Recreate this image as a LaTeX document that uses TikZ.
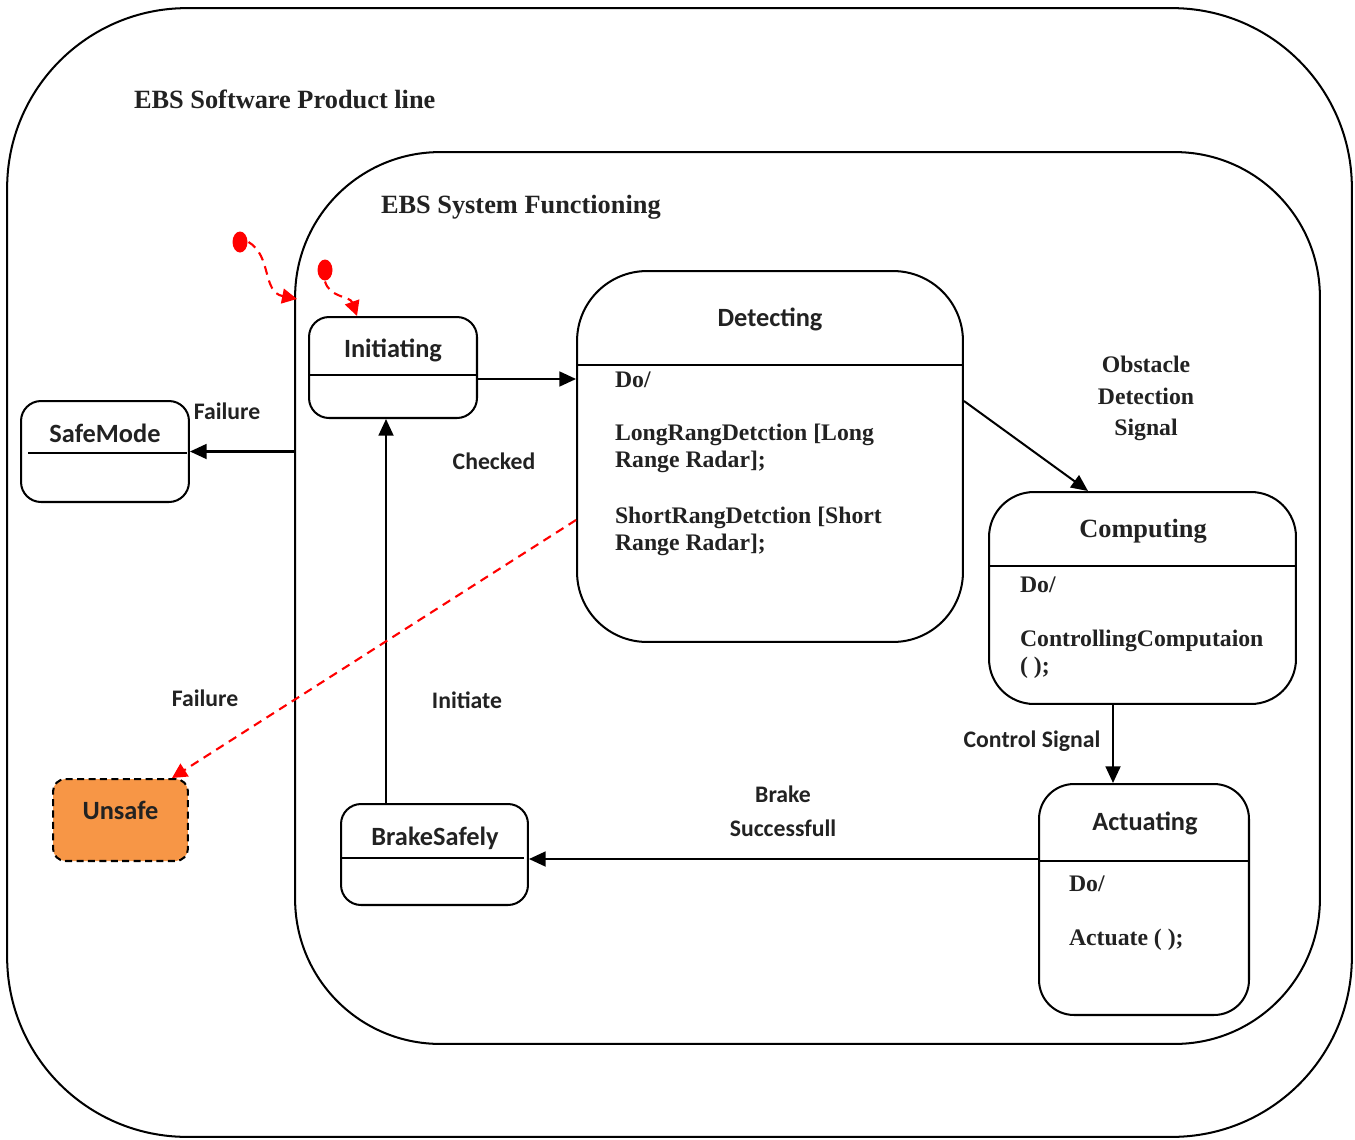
\documentclass[tikz,border=0pt]{standalone}
\usepackage{fontspec}
\setmainfont{Liberation Serif}
\newfontfamily\calfont{Carlito}
\usetikzlibrary{arrows.meta,shapes.geometric}
\definecolor{ink}{HTML}{222222}
\definecolor{alarm}{HTML}{FF0000}
\definecolor{unsafefill}{HTML}{F79646}

\begin{document}
\begin{tikzpicture}[x=0.02cm,y=-0.02cm,
  line width=1.15pt,
  box/.style={draw, rectangle, inner sep=0pt},
  tmr/.style={font=\fontsize{15}{18}\selectfont\bfseries, text=ink},
  body/.style={font=\fontsize{13.5}{15.5}\selectfont\bfseries, text=ink, align=left, anchor=west, inner sep=0pt},
  cal/.style={font=\calfont\fontsize{15}{18}\selectfont\bfseries, text=ink},
  lbl/.style={font=\calfont\fontsize{13.5}{16}\selectfont\bfseries, text=ink, align=center},
  tlbl/.style={font=\fontsize{13.5}{17.9}\selectfont\bfseries, text=ink, align=center},
  arr/.style={-{Triangle[length=9.5pt,width=8.5pt]}},
  redarr/.style={draw=alarm, dash pattern=on 5pt off 3.5pt, line width=1.2pt, -{Triangle[length=8.5pt,width=8.5pt]}},
]
\useasboundingbox (0,0) rectangle (1355,1139);

% containers
\node[box, minimum width=26.9cm, minimum height=22.58cm, rounded corners=3.6cm] (spl) at (679.5,572.5) {};
\node[box, minimum width=20.5cm, minimum height=17.84cm, rounded corners=2.9cm] (sys) at (807.5,598) {};
\node[tmr, anchor=west, inner sep=0pt] (spltitle) at (133,99) {EBS Software Product line};
\node[tmr, anchor=west, inner sep=0pt] (systitle) at (380,207.5) {EBS System Functioning};

% states
\node[box, minimum width=3.36cm, minimum height=2.02cm, rounded corners=0.4cm] (init) at (393,367.5) {};
\draw (init.west |- 0,375) -- (init.east |- 0,375);
\node[cal] (initname) at (393,350) {Initiating};

\node[box, minimum width=7.72cm, minimum height=7.42cm, rounded corners=1.4cm] (det) at (770,456.5) {};
\draw (det.west |- 0,365) -- (det.east |- 0,365);
\node[cal] (detname) at (770,319) {Detecting};
\node[body] (detdo) at (614,379.5) {Do/};
\node[body] (detlong) at (614,448.5) {LongRangDetction [Long\\Range Radar];};
\node[body] (detshort) at (614,531.5) {ShortRangDetction [Short\\Range Radar];};

\node[box, minimum width=3.36cm, minimum height=2.02cm, rounded corners=0.4cm] (safe) at (105,451.5) {};
\draw (28,453) -- (187,453);
\node[cal] (safename) at (105,433) {SafeMode};

\node[draw, rectangle, inner sep=0pt, fill=unsafefill, dash pattern=on 4pt off 2.5pt, minimum width=2.7cm, minimum height=1.64cm, rounded corners=0.25cm] (unsafe) at (120.5,820) {};
\node[cal] (unsafename) at (120.5,810) {Unsafe};

\node[box, minimum width=3.74cm, minimum height=2.02cm, rounded corners=0.4cm] (brake) at (434.5,854.5) {};
\draw (342,858) -- (524,858);
\node[cal] (brakename) at (435,838) {BrakeSafely};

\node[box, minimum width=6.14cm, minimum height=4.24cm, rounded corners=0.9cm] (comp) at (1142.5,598) {};
\draw (comp.west |- 0,566) -- (comp.east |- 0,566);
\node[tmr] (compname) at (1143,531) {Computing};
\node[body] (compdo) at (1019,584.5) {Do/};
\node[body] (compcall) at (1019,654.5) {ControllingComputaion\\( );};

\node[box, minimum width=4.2cm, minimum height=4.62cm, rounded corners=0.7cm] (act) at (1144,899.5) {};
\draw (act.west |- 0,861) -- (act.east |- 0,861);
\node[cal] (actname) at (1145,823) {Actuating};
\node[body] (actdo) at (1068,883.5) {Do/};
\node[body] (actcall) at (1068,940) {Actuate ( );};

% transitions
\draw[arr] ([yshift=-0.23cm]init.east) -- ([yshift=-0.23cm]init.east -| det.west);
\draw[arr] ([yshift=1.11cm]det.east) -- ([xshift=-1.09cm]comp.north);
\draw[arr] ([xshift=-0.59cm]comp.south) -- ([xshift=-0.59cm]comp.south |- act.north);
\draw[arr] ([yshift=0.81cm]act.west) -- ([yshift=0.81cm]act.west -| brake.east);
\draw[arr] ([xshift=-0.97cm]brake.north) -- ([xshift=-0.97cm]brake.north |- init.south);
\draw[arr] (sys.west |- safe.east) -- (safe.east);
\draw[redarr] ([yshift=-1.27cm]det.west) -- ([xshift=1.03cm]unsafe.north);

% initial pseudo-states
\node[ellipse, fill=alarm, minimum width=0.3cm, minimum height=0.42cm, inner sep=0pt] (start1) at (240,242) {};
\node[ellipse, fill=alarm, minimum width=0.3cm, minimum height=0.42cm, inner sep=0pt] (start2) at (325,270) {};
\coordinate (sysentry) at (297,299);
\draw[redarr] (start1.east) .. controls (272,256) and (262,292) .. (sysentry);
\draw[redarr] (start2.south) .. controls (330,298) and (350,296) .. ([xshift=-0.72cm]init.north);

% transition labels
\node[lbl] (lfail1) at (227,411) {Failure};
\node[lbl] (lcheck) at (494,461) {Checked};
\node[lbl] (lfail2) at (205,698) {Failure};
\node[lbl] (linit) at (467,700) {Initiate};
\node[tlbl] (lobst) at (1146,398.5) {Obstacle\\Detection\\Signal};
\node[lbl] (lctrl) at (1032,741) {Control Signal};
\node[lbl, font=\calfont\fontsize{13.5}{19.3}\selectfont\bfseries] (lbrake) at (783,811) {Brake\\Successfull};
\end{tikzpicture}
\end{document}
